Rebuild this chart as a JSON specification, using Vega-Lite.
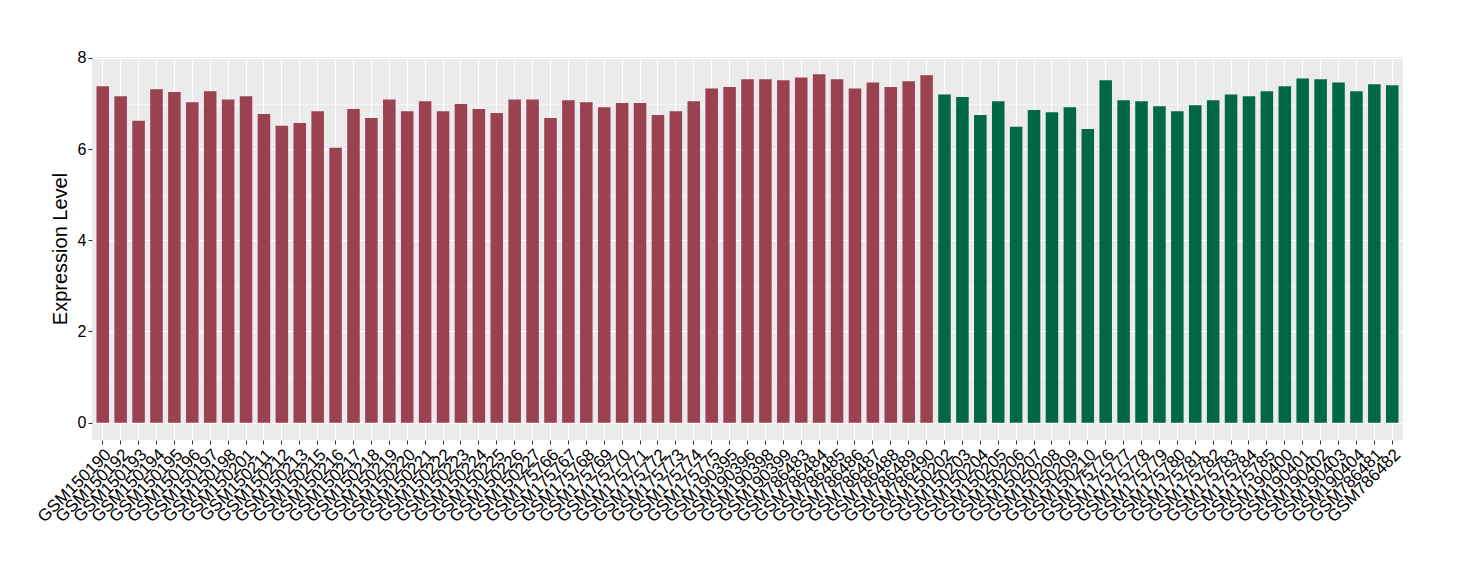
{
  "$schema": "https://vega.github.io/schema/vega-lite/v6.json",
  "autosize": {"type": "none"},
  "padding": {"left": 92, "top": 57, "right": 57, "bottom": 140},
  "width": 1311,
  "height": 383,
  "background": "white",
  "config": {
    "view": {"fill": "#EBEBEB", "stroke": null},
    "font": "Liberation Sans"
  },
  "data": {
    "values": [
      {"sample": "GSM150190", "value": 7.38, "group": "A"},
      {"sample": "GSM150192", "value": 7.16, "group": "A"},
      {"sample": "GSM150193", "value": 6.62, "group": "A"},
      {"sample": "GSM150194", "value": 7.31, "group": "A"},
      {"sample": "GSM150195", "value": 7.25, "group": "A"},
      {"sample": "GSM150196", "value": 7.03, "group": "A"},
      {"sample": "GSM150197", "value": 7.27, "group": "A"},
      {"sample": "GSM150198", "value": 7.09, "group": "A"},
      {"sample": "GSM150201", "value": 7.16, "group": "A"},
      {"sample": "GSM150211", "value": 6.77, "group": "A"},
      {"sample": "GSM150212", "value": 6.51, "group": "A"},
      {"sample": "GSM150213", "value": 6.57, "group": "A"},
      {"sample": "GSM150215", "value": 6.83, "group": "A"},
      {"sample": "GSM150216", "value": 6.03, "group": "A"},
      {"sample": "GSM150217", "value": 6.88, "group": "A"},
      {"sample": "GSM150218", "value": 6.68, "group": "A"},
      {"sample": "GSM150219", "value": 7.09, "group": "A"},
      {"sample": "GSM150220", "value": 6.83, "group": "A"},
      {"sample": "GSM150221", "value": 7.05, "group": "A"},
      {"sample": "GSM150222", "value": 6.83, "group": "A"},
      {"sample": "GSM150223", "value": 6.99, "group": "A"},
      {"sample": "GSM150224", "value": 6.88, "group": "A"},
      {"sample": "GSM150225", "value": 6.79, "group": "A"},
      {"sample": "GSM150226", "value": 7.09, "group": "A"},
      {"sample": "GSM150227", "value": 7.09, "group": "A"},
      {"sample": "GSM175766", "value": 6.68, "group": "A"},
      {"sample": "GSM175767", "value": 7.07, "group": "A"},
      {"sample": "GSM175768", "value": 7.03, "group": "A"},
      {"sample": "GSM175769", "value": 6.92, "group": "A"},
      {"sample": "GSM175770", "value": 7.01, "group": "A"},
      {"sample": "GSM175771", "value": 7.01, "group": "A"},
      {"sample": "GSM175772", "value": 6.75, "group": "A"},
      {"sample": "GSM175773", "value": 6.83, "group": "A"},
      {"sample": "GSM175774", "value": 7.05, "group": "A"},
      {"sample": "GSM175775", "value": 7.33, "group": "A"},
      {"sample": "GSM190395", "value": 7.36, "group": "A"},
      {"sample": "GSM190396", "value": 7.53, "group": "A"},
      {"sample": "GSM190398", "value": 7.53, "group": "A"},
      {"sample": "GSM190399", "value": 7.51, "group": "A"},
      {"sample": "GSM786483", "value": 7.57, "group": "A"},
      {"sample": "GSM786484", "value": 7.64, "group": "A"},
      {"sample": "GSM786485", "value": 7.53, "group": "A"},
      {"sample": "GSM786486", "value": 7.33, "group": "A"},
      {"sample": "GSM786487", "value": 7.46, "group": "A"},
      {"sample": "GSM786488", "value": 7.36, "group": "A"},
      {"sample": "GSM786489", "value": 7.49, "group": "A"},
      {"sample": "GSM786490", "value": 7.62, "group": "A"},
      {"sample": "GSM150202", "value": 7.20, "group": "B"},
      {"sample": "GSM150203", "value": 7.14, "group": "B"},
      {"sample": "GSM150204", "value": 6.75, "group": "B"},
      {"sample": "GSM150205", "value": 7.05, "group": "B"},
      {"sample": "GSM150206", "value": 6.49, "group": "B"},
      {"sample": "GSM150207", "value": 6.86, "group": "B"},
      {"sample": "GSM150208", "value": 6.81, "group": "B"},
      {"sample": "GSM150209", "value": 6.92, "group": "B"},
      {"sample": "GSM150210", "value": 6.44, "group": "B"},
      {"sample": "GSM175776", "value": 7.51, "group": "B"},
      {"sample": "GSM175777", "value": 7.07, "group": "B"},
      {"sample": "GSM175778", "value": 7.05, "group": "B"},
      {"sample": "GSM175779", "value": 6.94, "group": "B"},
      {"sample": "GSM175780", "value": 6.83, "group": "B"},
      {"sample": "GSM175781", "value": 6.96, "group": "B"},
      {"sample": "GSM175782", "value": 7.07, "group": "B"},
      {"sample": "GSM175783", "value": 7.20, "group": "B"},
      {"sample": "GSM175784", "value": 7.16, "group": "B"},
      {"sample": "GSM175785", "value": 7.27, "group": "B"},
      {"sample": "GSM190400", "value": 7.38, "group": "B"},
      {"sample": "GSM190401", "value": 7.55, "group": "B"},
      {"sample": "GSM190402", "value": 7.53, "group": "B"},
      {"sample": "GSM190403", "value": 7.46, "group": "B"},
      {"sample": "GSM190404", "value": 7.27, "group": "B"},
      {"sample": "GSM786481", "value": 7.42, "group": "B"},
      {"sample": "GSM786482", "value": 7.40, "group": "B"}
    ]
  },
  "mark": {"type": "bar"},
  "encoding": {
    "x": {
      "field": "sample",
      "type": "nominal",
      "sort": null,
      "scale": {"paddingInner": 0.3, "paddingOuter": 0.25},
      "axis": {
        "title": null,
        "labelAngle": -45,
        "labelAlign": "right",
        "labelBaseline": "top",
        "labelFontSize": 17,
        "labelColor": "#000000",
        "labelPadding": 2,
        "tickColor": "#333333",
        "tickSize": 4,
        "tickWidth": 1,
        "domain": false,
        "grid": true,
        "gridColor": "#FFFFFF",
        "gridWidth": 1.1,
        "bandPosition": 0.5,
        "labelOverlap": false
      }
    },
    "y": {
      "field": "value",
      "type": "quantitative",
      "scale": {"domain": [-0.38, 8.02], "nice": false, "zero": false},
      "axis": {
        "title": "Expression Level",
        "titleFontSize": 20,
        "titleFontWeight": "normal",
        "titleColor": "#000000",
        "titlePadding": 7,
        "values": [0, 1, 2, 3, 4, 5, 6, 7, 8],
        "labelExpr": "datum.value % 2 === 0 ? datum.label : ''",
        "labelFontSize": 16,
        "labelColor": "#000000",
        "labelPadding": 2,
        "tickColor": "#333333",
        "tickSize": 4,
        "tickOpacity": {"condition": {"test": "datum.value % 2 === 0", "value": 1}, "value": 0},
        "domain": false,
        "grid": true,
        "gridColor": "#FFFFFF",
        "gridWidth": {"condition": {"test": "datum.value % 2 === 0", "value": 1.1}, "value": 0.55}
      }
    },
    "color": {
      "field": "group",
      "type": "nominal",
      "scale": {"domain": ["A", "B"], "range": ["#9A4250", "#006846"]},
      "legend": null
    }
  }
}
